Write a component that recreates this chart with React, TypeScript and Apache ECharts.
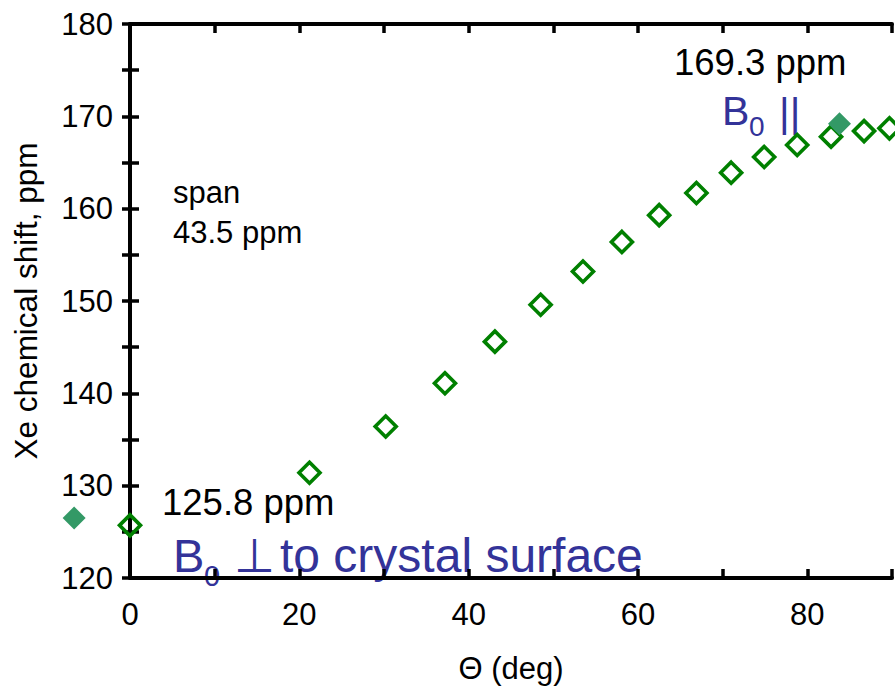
import React, { useEffect, useRef } from "react";
import * as echarts from "echarts";

const xTicks = [0, 20, 40, 60, 80];
const yTicks = [120, 130, 140, 150, 160, 170, 180];

// open diamonds: angle (deg), shift (ppm)
const openAngles = [0, 21.2, 30.2, 37.2, 43.1, 48.5, 53.5, 58.1, 62.5, 66.9, 71.0, 74.9, 78.8, 82.8, 86.7, 89.7];
const openShifts = [125.7, 131.4, 136.4, 141.1, 145.6, 149.6, 153.2, 156.4, 159.3, 161.7, 163.9, 165.6, 166.9, 167.8, 168.4, 168.7];

// filled diamonds
const filledAngles = [-6.6, 83.8];
const filledShifts = [126.5, 169.2];

const FONT = "'Liberation Sans', Arial, sans-serif";
const BLUE = "#333399";

export default function App() {
  const ref = useRef<HTMLDivElement>(null);
  useEffect(() => {
    if (!ref.current) return;
    const chart = echarts.init(ref.current, undefined, { renderer: "svg" });
    const openData = openAngles.map((a, i) => [a, openShifts[i]]);
    const filledData = filledAngles.map((a, i) => [a, filledShifts[i]]);
    const axisLine = { show: true, lineStyle: { color: "#000", width: 4 } };
    const tick = (len: number) => ({ show: true, inside: true, length: len, lineStyle: { color: "#000", width: 3.5 } });
    chart.setOption({
      animation: false,
      backgroundColor: "#fff",
      textStyle: { fontFamily: FONT },
      grid: { left: 130, right: 2, top: 24, bottom: 113, containLabel: false },
      xAxis: [
        {
          type: "value",
          position: "bottom",
          min: 0,
          max: 90,
          interval: 10,
          axisLine,
          splitLine: { show: false },
          axisTick: tick(9),
          axisLabel: {
            color: "#000",
            fontSize: 31,
            fontFamily: FONT,
            margin: 21,
            formatter: (v: number) => (xTicks.includes(v) ? String(v) : ""),
          },
          name: "\u0398 (deg)",
          nameLocation: "middle",
          nameGap: 75,
          nameTextStyle: { color: "#000", fontSize: 31, fontFamily: FONT },
        },
        {
          type: "value",
          position: "top",
          min: 0,
          max: 90,
          interval: 10,
          axisLine,
          splitLine: { show: false },
          axisTick: tick(9),
          axisLabel: { show: false },
        },
      ],
      yAxis: [
        {
          type: "value",
          position: "left",
          min: 120,
          max: 180,
          interval: 5,
          axisLine,
          splitLine: { show: false },
          axisTick: tick(9),
          axisLabel: {
            color: "#000",
            fontSize: 31,
            fontFamily: FONT,
            margin: 17,
            formatter: (v: number) => (yTicks.includes(v) ? String(v) : ""),
          },
          name: "Xe chemical shift, ppm",
          nameLocation: "middle",
          nameGap: 88,
          nameRotate: 90,
          nameTextStyle: { color: "#000", fontSize: 31.5, fontFamily: FONT },
        },
        {
          type: "value",
          position: "right",
          min: 120,
          max: 180,
          interval: 5,
          axisLine: { show: false },
          splitLine: { show: false },
          axisTick: tick(8),
          axisLabel: { show: false },
        },
      ],
      series: [
        {
          type: "scatter",
          data: openData,
          symbol: "diamond",
          symbolSize: 21,
          itemStyle: { color: "rgba(255,255,255,0)", borderColor: "#008000", borderWidth: 3.6, opacity: 1 },
          clip: false,
          z: 3,
        },
        {
          type: "scatter",
          data: filledData,
          symbol: "diamond",
          symbolSize: 23,
          itemStyle: { color: "#339966", borderWidth: 0, opacity: 1 },
          clip: false,
          z: 4,
        },
      ],
      graphic: [
        { type: "text", x: 173, y: 192, style: { text: "span", fontSize: 31, fontFamily: FONT, fill: "#000", verticalAlign: "middle" } },
        { type: "text", x: 173, y: 232, style: { text: "43.5 ppm", fontSize: 31, fontFamily: FONT, fill: "#000", verticalAlign: "middle" } },
        { type: "text", x: 674, y: 62, style: { text: "169.3 ppm", fontSize: 36.5, fontFamily: FONT, fill: "#000", verticalAlign: "middle" } },
        { type: "text", x: 162, y: 502, style: { text: "125.8 ppm", fontSize: 36.5, fontFamily: FONT, fill: "#000", verticalAlign: "middle" } },
        { type: "text", x: 722, y: 111, style: { text: "B", fontSize: 41, fontFamily: FONT, fill: BLUE, verticalAlign: "middle" } },
        { type: "text", x: 749, y: 126, style: { text: "0", fontSize: 28, fontFamily: FONT, fill: BLUE, verticalAlign: "middle" } },
        { type: "text", x: 779, y: 113, style: { text: "||", fontSize: 41, fontFamily: FONT, fill: BLUE, verticalAlign: "middle" } },
        { type: "text", x: 173, y: 555, style: { text: "B", fontSize: 47, fontFamily: FONT, fill: BLUE, verticalAlign: "middle" } },
        { type: "text", x: 204, y: 576, style: { text: "0", fontSize: 29, fontFamily: FONT, fill: BLUE, verticalAlign: "middle" } },
        { type: "text", x: 234, y: 555, style: { text: "\u22A5", fontSize: 47, fontFamily: FONT, fill: BLUE, verticalAlign: "middle" } },
        { type: "text", x: 280, y: 555, style: { text: "to crystal surface", fontSize: 48, fontFamily: FONT, fill: BLUE, verticalAlign: "middle" } },
      ],
    });
    return () => chart.dispose();
  }, []);
  return (
    <div
      ref={ref}
      style={{ position: "fixed", left: 0, top: 0, width: 895, height: 691, background: "#fff" }}
    />
  );
}
